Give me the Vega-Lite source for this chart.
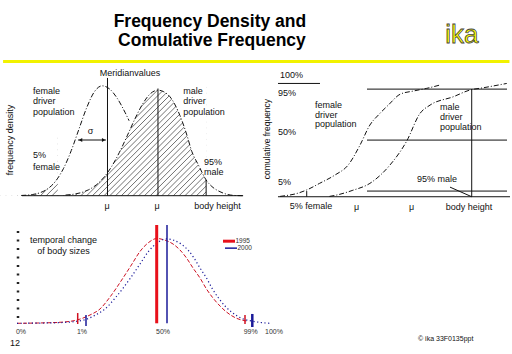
{
  "$schema": "https://vega.github.io/schema/vega-lite/v6.json",
  "padding": 0,
  "spacing": 0,
  "background": "white",
  "config": {"view": {"stroke": null}, "text": {"font": "Liberation Sans"}, "concat": {"spacing": 0}},
  "datasets": {
    "hdrText": [{"x": 0.41, "y": 0.409, "t": "Frequency Density and"}, {"x": 0.414, "y": 0.697, "t": "Comulative Frequency"}],
    "hdrLogo": [{"x": 0.902, "y": 0.652, "t": "ika"}],
    "hdrRule": [{"x": 0.006, "x2": 0.995, "y": 0.932}],
    "aHatch": [
      {"x": 131, "x2": 160.35, "y": 0, "y2": 1.05}, {"x": 132.5, "x2": 161.85, "y": 0, "y2": 1.05},
      {"x": 134, "x2": 163.35, "y": 0, "y2": 1.05}, {"x": 135.5, "x2": 164.85, "y": 0, "y2": 1.05},
      {"x": 137, "x2": 166.35, "y": 0, "y2": 1.05}, {"x": 138.5, "x2": 167.85, "y": 0, "y2": 1.05},
      {"x": 140, "x2": 169.35, "y": 0, "y2": 1.05}, {"x": 141.5, "x2": 170.85, "y": 0, "y2": 1.05},
      {"x": 143, "x2": 172.35, "y": 0, "y2": 1.05}, {"x": 144.5, "x2": 173.85, "y": 0, "y2": 1.05},
      {"x": 146, "x2": 175.35, "y": 0, "y2": 1.05}, {"x": 147.5, "x2": 176.85, "y": 0, "y2": 1.05},
      {"x": 149, "x2": 178.35, "y": 0, "y2": 1.05}, {"x": 150.5, "x2": 179.85, "y": 0, "y2": 1.05},
      {"x": 152, "x2": 181.35, "y": 0, "y2": 1.05}, {"x": 153.5, "x2": 182.85, "y": 0, "y2": 1.05},
      {"x": 155, "x2": 184.35, "y": 0, "y2": 1.05}, {"x": 156.5, "x2": 185.85, "y": 0, "y2": 1.05},
      {"x": 158, "x2": 187.35, "y": 0, "y2": 1.05}, {"x": 159.5, "x2": 188.85, "y": 0, "y2": 1.05},
      {"x": 161, "x2": 190.35, "y": 0, "y2": 1.05}, {"x": 162.5, "x2": 191.85, "y": 0, "y2": 1.05},
      {"x": 164, "x2": 193.35, "y": 0, "y2": 1.05}, {"x": 165.5, "x2": 194.85, "y": 0, "y2": 1.05},
      {"x": 167, "x2": 196.35, "y": 0, "y2": 1.05}, {"x": 168.5, "x2": 197.85, "y": 0, "y2": 1.05},
      {"x": 170, "x2": 199.35, "y": 0, "y2": 1.05}, {"x": 171.5, "x2": 200.85, "y": 0, "y2": 1.05},
      {"x": 173, "x2": 202.35, "y": 0, "y2": 1.05}, {"x": 174.5, "x2": 203.85, "y": 0, "y2": 1.05},
      {"x": 176, "x2": 205.35, "y": 0, "y2": 1.05}, {"x": 177.5, "x2": 206.85, "y": 0, "y2": 1.05},
      {"x": 179, "x2": 208.35, "y": 0, "y2": 1.05}, {"x": 180.5, "x2": 209.85, "y": 0, "y2": 1.05},
      {"x": 182, "x2": 211.35, "y": 0, "y2": 1.05}, {"x": 183.5, "x2": 212.85, "y": 0, "y2": 1.05}
    ],
    "aMaskF": [
      {"x": 131, "y": 0}, {"x": 136.5, "y": 0.002}, {"x": 137.5, "y": 0.004}, {"x": 139.5, "y": 0.0113},
      {"x": 141.5, "y": 0.0291}, {"x": 143.5, "y": 0.067}, {"x": 145.5, "y": 0.138}, {"x": 146, "y": 0.163}
    ],
    "aMaskM": [
      {"x": 146, "y": 0.003}, {"x": 148, "y": 0.0059}, {"x": 150, "y": 0.0132}, {"x": 152, "y": 0.028},
      {"x": 154, "y": 0.055}, {"x": 156, "y": 0.1006}, {"x": 158, "y": 0.1717}, {"x": 160, "y": 0.2724},
      {"x": 162, "y": 0.4029}, {"x": 164, "y": 0.5548}, {"x": 166, "y": 0.7116}, {"x": 168, "y": 0.85},
      {"x": 170, "y": 0.946}, {"x": 172, "y": 0.98}, {"x": 173.5, "y": 0.965}, {"x": 175.1, "y": 0.919},
      {"x": 177.7, "y": 0.745}, {"x": 179.5, "y": 0.563}, {"x": 180.8, "y": 0.409}, {"x": 182.5, "y": 0.285},
      {"x": 184.5, "y": 0.146}
    ],
    "aMaskR": [{"x": 184.5, "x2": 199.5, "y": -0.01, "y2": 1.2}],
    "aFemale": [
      {"x": 136.5, "y": 0.002}, {"x": 137.5, "y": 0.004}, {"x": 139.5, "y": 0.0113}, {"x": 141.5, "y": 0.0291},
      {"x": 143.5, "y": 0.067}, {"x": 145.5, "y": 0.138}, {"x": 146, "y": 0.163}, {"x": 147.5, "y": 0.254},
      {"x": 149.5, "y": 0.419}, {"x": 151.5, "y": 0.619}, {"x": 153.5, "y": 0.817}, {"x": 155.5, "y": 0.965},
      {"x": 157.5, "y": 1.02}, {"x": 159.5, "y": 0.989}, {"x": 161.5, "y": 0.9}, {"x": 163.5, "y": 0.77},
      {"x": 164.5, "y": 0.696}
    ],
    "aMale": [
      {"x": 148, "y": 0.0059}, {"x": 150, "y": 0.0132}, {"x": 152, "y": 0.028}, {"x": 154, "y": 0.055},
      {"x": 156, "y": 0.1006}, {"x": 158, "y": 0.1717}, {"x": 160, "y": 0.2724}, {"x": 162, "y": 0.4029},
      {"x": 164, "y": 0.5548}, {"x": 166, "y": 0.7116}, {"x": 168, "y": 0.85}, {"x": 170, "y": 0.946},
      {"x": 172, "y": 0.98}, {"x": 173.5, "y": 0.965}, {"x": 175.1, "y": 0.919}, {"x": 177.7, "y": 0.745},
      {"x": 179.5, "y": 0.563}, {"x": 180.8, "y": 0.409}, {"x": 182.5, "y": 0.285}, {"x": 184.5, "y": 0.146},
      {"x": 186, "y": 0.085}, {"x": 188.1, "y": 0.037}, {"x": 190, "y": 0.012}, {"x": 192, "y": 0.002},
      {"x": 194, "y": 0}
    ],
    "aH": [{"x": 136.7, "x2": 194.1, "y": 0}, {"x": 151.24, "x2": 158.5, "y": 0.517}],
    "aV": [{"x": 158.9, "y": 0, "y2": 1.093}, {"x": 172, "y": 0, "y2": 0.995}, {"x": 184.5, "y": 0, "y2": 0.146}],
    "aArrowL": [{"x": 151.9, "y": 0.517}],
    "aArrowR": [{"x": 157.9, "y": 0.517}],
    "aTextL": [
      {"x": 139.56, "y": 0.972, "t": "female"}, {"x": 139.56, "y": 0.875, "t": "driver"}, {"x": 139.56, "y": 0.777, "t": "population"},
      {"x": 139.56, "y": 0.378, "t": "5%"}, {"x": 139.56, "y": 0.266, "t": "female"},
      {"x": 178.57, "y": 0.972, "t": "male"}, {"x": 178.57, "y": 0.875, "t": "driver"}, {"x": 178.57, "y": 0.777, "t": "population"},
      {"x": 183.95, "y": 0.316, "t": "95%"}, {"x": 183.95, "y": 0.223, "t": "male"}
    ],
    "aTextC": [
      {"x": 164.74, "y": 1.139, "t": "Meridianvalues"}, {"x": 154.5, "y": 0.6, "t": "σ"},
      {"x": 158.8, "y": -0.096, "t": "μ"}, {"x": 171.75, "y": -0.096, "t": "μ"},
      {"x": 187.45, "y": -0.093, "t": "body height"}
    ],
    "aTextR": [{"x": 133.6, "y": 0.517, "t": "frequency density"}],
    "bH": [
      {"x": 132.86, "x2": 145.63, "y": 100}, {"x": 159.92, "x2": 202.48, "y": 95},
      {"x": 159.92, "x2": 202.48, "y": 50}, {"x": 159.92, "x2": 202.48, "y": 5},
      {"x": 132.86, "x2": 203.39, "y": 0}
    ],
    "bV": [{"x": 191.75, "y": 0, "y2": 95}, {"x": 141.59, "y": 0, "y2": 5}],
    "bD": [{"x": 185.15, "y": 8.5, "x2": 191.75, "y2": 0}],
    "bFemale": [
      {"x": 133.5, "y": 0.3}, {"x": 135, "y": 0.9}, {"x": 138, "y": 2.4}, {"x": 141.6, "y": 6}, {"x": 145.5, "y": 11.8},
      {"x": 150.2, "y": 19.2}, {"x": 154.2, "y": 28}, {"x": 157.8, "y": 45.6}, {"x": 160.8, "y": 63.3},
      {"x": 163.5, "y": 72.5}, {"x": 166.4, "y": 80.9}, {"x": 170, "y": 90.5}, {"x": 174, "y": 93.3},
      {"x": 178.1, "y": 95.7}, {"x": 182.1, "y": 98.6}
    ],
    "bMale": [
      {"x": 148.5, "y": 0.3}, {"x": 150.7, "y": 1.5}, {"x": 155.4, "y": 5.5}, {"x": 160.8, "y": 11.8},
      {"x": 166.9, "y": 28}, {"x": 172, "y": 49.2}, {"x": 176, "y": 73.4}, {"x": 179.1, "y": 80.9},
      {"x": 186.2, "y": 88.3}, {"x": 191.2, "y": 94.2}, {"x": 195.3, "y": 96.2}, {"x": 202.4, "y": 100}
    ],
    "bTextL": [
      {"x": 133.47, "y": 107.4, "t": "100%"}, {"x": 132.86, "y": 91.5, "t": "95%"},
      {"x": 132.86, "y": 57.1, "t": "50%"}, {"x": 132.86, "y": 13, "t": "5%"},
      {"x": 144.11, "y": 80.9, "t": "female"}, {"x": 144.11, "y": 72.1, "t": "driver"}, {"x": 144.11, "y": 64.1, "t": "population"},
      {"x": 182.11, "y": 79.2, "t": "male"}, {"x": 182.11, "y": 70.3, "t": "driver"}, {"x": 182.11, "y": 61.5, "t": "population"},
      {"x": 175.12, "y": 15.6, "t": "95% male"}
    ],
    "bTextC": [
      {"x": 142.9, "y": -8.6, "t": "5% female"}, {"x": 156.79, "y": -9.1, "t": "μ"},
      {"x": 173.51, "y": -9.1, "t": "μ"}, {"x": 190.93, "y": -9.1, "t": "body height"}
    ],
    "bTextR": [{"x": 129.52, "y": 50.9, "t": "comulative frequency"}],
    "cRed": [
      {"x": 142.1, "y": 0}, {"x": 146.7, "y": 0.004}, {"x": 150.7, "y": 0.012}, {"x": 154.1, "y": 0.039},
      {"x": 156.7, "y": 0.098}, {"x": 158.7, "y": 0.169}, {"x": 160.7, "y": 0.31}, {"x": 163.3, "y": 0.534},
      {"x": 165.1, "y": 0.699}, {"x": 166.7, "y": 0.847}, {"x": 168.3, "y": 0.947}, {"x": 170.1, "y": 1},
      {"x": 171.9, "y": 0.976}, {"x": 173.3, "y": 0.935}, {"x": 174.7, "y": 0.864}, {"x": 176, "y": 0.77},
      {"x": 177.3, "y": 0.652}, {"x": 178.7, "y": 0.534}, {"x": 180, "y": 0.404}, {"x": 181.3, "y": 0.298},
      {"x": 182.7, "y": 0.204}, {"x": 184, "y": 0.133}, {"x": 186, "y": 0.059}, {"x": 188, "y": 0.027}
    ],
    "cBlue": [
      {"x": 142.1, "y": 0}, {"x": 148, "y": 0.004}, {"x": 152, "y": 0.012}, {"x": 155.5, "y": 0.039},
      {"x": 157.8, "y": 0.098}, {"x": 159.7, "y": 0.169}, {"x": 161.9, "y": 0.31}, {"x": 164.8, "y": 0.534},
      {"x": 166.7, "y": 0.699}, {"x": 168.4, "y": 0.847}, {"x": 170.1, "y": 0.947}, {"x": 172.1, "y": 0.995},
      {"x": 173.6, "y": 0.976}, {"x": 174.9, "y": 0.935}, {"x": 176.3, "y": 0.864}, {"x": 177.5, "y": 0.77},
      {"x": 178.7, "y": 0.652}, {"x": 180, "y": 0.534}, {"x": 181.2, "y": 0.404}, {"x": 182.4, "y": 0.298},
      {"x": 183.7, "y": 0.204}, {"x": 185, "y": 0.133}, {"x": 187, "y": 0.059}, {"x": 189, "y": 0.027},
      {"x": 191, "y": 0.008}, {"x": 192.6, "y": 0}
    ],
    "cAxis": [{"x": 142.3, "y": 0.0625, "y2": 1.136}],
    "cRedMean": [{"x": 170.04, "y": 0, "y2": 1.159}],
    "cBlueMean": [{"x": 172.1, "y": 0, "y2": 1.159}],
    "cRedTicks": [{"x": 154.24, "y": -0.008, "y2": 0.121}, {"x": 187.7, "y": -0.008, "y2": 0.098}],
    "cBlueTick1": [{"x": 155.9, "y": -0.032, "y2": 0.098}],
    "cBlueTick99": [{"x": 189.16, "y": -0.044, "y2": 0.11}],
    "cLegRed": [{"x": 183.3, "x2": 185.7, "y": 0.968}],
    "cLegBlue": [{"x": 183.7, "x2": 186.1, "y": 0.886}],
    "cTextBig": [{"x": 151.4, "y": 0.982, "t": "temporal change"}, {"x": 151.4, "y": 0.858, "t": "of body sizes"}],
    "cPct": [
      {"x": 142.9, "y": -0.103, "t": "0%"}, {"x": 155.1, "y": -0.103, "t": "1%"}, {"x": 171.3, "y": -0.103, "t": "50%"},
      {"x": 188.84, "y": -0.103, "t": "99%"}, {"x": 193.5, "y": -0.103, "t": "100%"}
    ],
    "cLegText": [{"x": 185.8, "y": 0.968, "t": "1995"}, {"x": 186.2, "y": 0.886, "t": "2000"}],
    "cPage": [{"x": 140.7, "y": -0.232, "t": "12"}],
    "cCopy": [{"x": 222.3, "y": -0.186, "t": "© ika  33F0135ppt"}]
  },
  "vconcat": [
    {
      "width": 512, "height": 66,
      "encoding": {
        "x": {"field": "x", "type": "quantitative", "scale": {"domain": [0, 1], "nice": false, "zero": false}, "axis": null},
        "y": {"field": "y", "type": "quantitative", "scale": {"domain": [0, 1], "nice": false, "zero": false, "reverse": true}, "axis": null}
      },
      "layer": [
        {"data": {"name": "hdrRule"}, "mark": {"type": "rule", "color": "#f2f200", "strokeWidth": 3}, "encoding": {"x2": {"field": "x2"}}},
        {"data": {"name": "hdrText"}, "mark": {"type": "text", "align": "center", "baseline": "alphabetic", "fontSize": 17.5, "fontWeight": "bold", "color": "#000"}, "encoding": {"text": {"field": "t"}}},
        {"data": {"name": "hdrLogo"}, "mark": {"type": "text", "align": "center", "baseline": "alphabetic", "fontSize": 26, "fill": "#ffff00", "stroke": "#444", "strokeWidth": 0.8}, "encoding": {"text": {"field": "t"}}}
      ]
    },
    {
      "hconcat": [
        {
          "width": 262, "height": 150,
          "encoding": {
            "x": {"field": "x", "type": "quantitative", "scale": {"domain": [131, 199], "nice": false, "zero": false}, "axis": null},
            "y": {"field": "y", "type": "quantitative", "scale": {"domain": [-0.1885, 1.204], "nice": false, "zero": false}, "axis": null}
          },
          "layer": [
            {"data": {"name": "aHatch"}, "mark": {"type": "rule", "clip": true, "color": "#333", "strokeWidth": 0.7}, "encoding": {"x2": {"field": "x2"}, "y2": {"field": "y2"}}},
            {"data": {"name": "aMaskF"}, "mark": {"type": "area", "color": "white", "interpolate": "monotone", "clip": true}, "encoding": {"y2": {"datum": 1.2}}},
            {"data": {"name": "aMaskM"}, "mark": {"type": "area", "color": "white", "interpolate": "monotone", "clip": true}, "encoding": {"y2": {"datum": 1.2}}},
            {"data": {"name": "aMaskR"}, "mark": {"type": "rect", "color": "white", "clip": true}, "encoding": {"x2": {"field": "x2"}, "y2": {"field": "y2"}}},
            {"data": {"name": "aFemale"}, "mark": {"type": "line", "color": "#111", "strokeWidth": 1, "strokeDash": [5, 2, 1, 2], "interpolate": "monotone"}},
            {"data": {"name": "aMale"}, "mark": {"type": "line", "color": "#111", "strokeWidth": 1, "strokeDash": [5, 2, 1, 2], "interpolate": "monotone"}},
            {"data": {"name": "aH"}, "mark": {"type": "rule", "color": "#111", "strokeWidth": 1}, "encoding": {"x2": {"field": "x2"}}},
            {"data": {"name": "aV"}, "mark": {"type": "rule", "color": "#111", "strokeWidth": 1}, "encoding": {"y2": {"field": "y2"}}},
            {"data": {"name": "aArrowL"}, "mark": {"type": "point", "shape": "triangle-left", "filled": true, "size": 16, "color": "#111", "opacity": 1}},
            {"data": {"name": "aArrowR"}, "mark": {"type": "point", "shape": "triangle-right", "filled": true, "size": 16, "color": "#111", "opacity": 1}},
            {"data": {"name": "aTextL"}, "mark": {"type": "text", "align": "left", "baseline": "middle", "fontSize": 9, "color": "#111"}, "encoding": {"text": {"field": "t"}}},
            {"data": {"name": "aTextC"}, "mark": {"type": "text", "align": "center", "baseline": "middle", "fontSize": 9, "color": "#111"}, "encoding": {"text": {"field": "t"}}},
            {"data": {"name": "aTextR"}, "mark": {"type": "text", "align": "center", "baseline": "middle", "fontSize": 9, "angle": 270, "color": "#111"}, "encoding": {"text": {"field": "t"}}}
          ]
        },
        {
          "width": 250, "height": 150,
          "encoding": {
            "x": {"field": "x", "type": "quantitative", "scale": {"domain": [128, 204], "nice": false, "zero": false}, "axis": null},
            "y": {"field": "y", "type": "quantitative", "scale": {"domain": [-17, 115.4], "nice": false, "zero": false}, "axis": null}
          },
          "layer": [
            {"data": {"name": "bH"}, "mark": {"type": "rule", "color": "#111", "strokeWidth": 1}, "encoding": {"x2": {"field": "x2"}}},
            {"data": {"name": "bV"}, "mark": {"type": "rule", "color": "#111", "strokeWidth": 1}, "encoding": {"y2": {"field": "y2"}}},
            {"data": {"name": "bD"}, "mark": {"type": "rule", "color": "#111", "strokeWidth": 1}, "encoding": {"x2": {"field": "x2"}, "y2": {"field": "y2"}}},
            {"data": {"name": "bFemale"}, "mark": {"type": "line", "color": "#111", "strokeWidth": 1, "strokeDash": [5, 2, 1, 2], "interpolate": "monotone"}},
            {"data": {"name": "bMale"}, "mark": {"type": "line", "color": "#111", "strokeWidth": 1, "strokeDash": [5, 2, 1, 2], "interpolate": "monotone"}},
            {"data": {"name": "bTextL"}, "mark": {"type": "text", "align": "left", "baseline": "middle", "fontSize": 9, "color": "#111"}, "encoding": {"text": {"field": "t"}}},
            {"data": {"name": "bTextC"}, "mark": {"type": "text", "align": "center", "baseline": "middle", "fontSize": 9, "color": "#111"}, "encoding": {"text": {"field": "t"}}},
            {"data": {"name": "bTextR"}, "mark": {"type": "text", "align": "center", "baseline": "middle", "fontSize": 8.5, "angle": 270, "color": "#111"}, "encoding": {"text": {"field": "t"}}}
          ]
        }
      ],
      "spacing": 0
    },
    {
      "width": 512, "height": 138,
      "encoding": {
        "x": {"field": "x", "type": "quantitative", "scale": {"domain": [138.7, 241.1], "nice": false, "zero": false}, "axis": null},
        "y": {"field": "y", "type": "quantitative", "scale": {"domain": [-0.362, 1.265], "nice": false, "zero": false}, "axis": null}
      },
      "layer": [
        {"data": {"name": "cAxis"}, "mark": {"type": "rule", "color": "#222", "strokeWidth": 2.5, "strokeDash": [2, 6.5]}, "encoding": {"y2": {"field": "y2"}}},
        {"data": {"name": "cRed"}, "mark": {"type": "line", "color": "#cc1122", "strokeWidth": 1, "strokeDash": [4, 2], "interpolate": "monotone"}},
        {"data": {"name": "cBlue"}, "mark": {"type": "line", "color": "#1a1a99", "strokeWidth": 1.2, "strokeDash": [1.2, 2.5], "interpolate": "monotone"}},
        {"data": {"name": "cRedMean"}, "mark": {"type": "rule", "color": "#e8101a", "strokeWidth": 3}, "encoding": {"y2": {"field": "y2"}}},
        {"data": {"name": "cBlueMean"}, "mark": {"type": "rule", "color": "#1a1a99", "strokeWidth": 1.5}, "encoding": {"y2": {"field": "y2"}}},
        {"data": {"name": "cRedTicks"}, "mark": {"type": "rule", "color": "#d01020", "strokeWidth": 1.5}, "encoding": {"y2": {"field": "y2"}}},
        {"data": {"name": "cBlueTick1"}, "mark": {"type": "rule", "color": "#1a1a99", "strokeWidth": 1.5}, "encoding": {"y2": {"field": "y2"}}},
        {"data": {"name": "cBlueTick99"}, "mark": {"type": "rule", "color": "#1a1a99", "strokeWidth": 2.5}, "encoding": {"y2": {"field": "y2"}}},
        {"data": {"name": "cLegRed"}, "mark": {"type": "rule", "color": "#e8101a", "strokeWidth": 3}, "encoding": {"x2": {"field": "x2"}}},
        {"data": {"name": "cLegBlue"}, "mark": {"type": "rule", "color": "#1a1a99", "strokeWidth": 1.5}, "encoding": {"x2": {"field": "x2"}}},
        {"data": {"name": "cTextBig"}, "mark": {"type": "text", "align": "center", "baseline": "middle", "fontSize": 9, "color": "#111"}, "encoding": {"text": {"field": "t"}}},
        {"data": {"name": "cPct"}, "mark": {"type": "text", "align": "center", "baseline": "middle", "fontSize": 7, "color": "#333"}, "encoding": {"text": {"field": "t"}}},
        {"data": {"name": "cLegText"}, "mark": {"type": "text", "align": "left", "baseline": "middle", "fontSize": 6.5, "color": "#333"}, "encoding": {"text": {"field": "t"}}},
        {"data": {"name": "cPage"}, "mark": {"type": "text", "align": "left", "baseline": "middle", "fontSize": 9, "color": "#111"}, "encoding": {"text": {"field": "t"}}},
        {"data": {"name": "cCopy"}, "mark": {"type": "text", "align": "left", "baseline": "middle", "fontSize": 7, "color": "#111"}, "encoding": {"text": {"field": "t"}}}
      ]
    }
  ]
}
